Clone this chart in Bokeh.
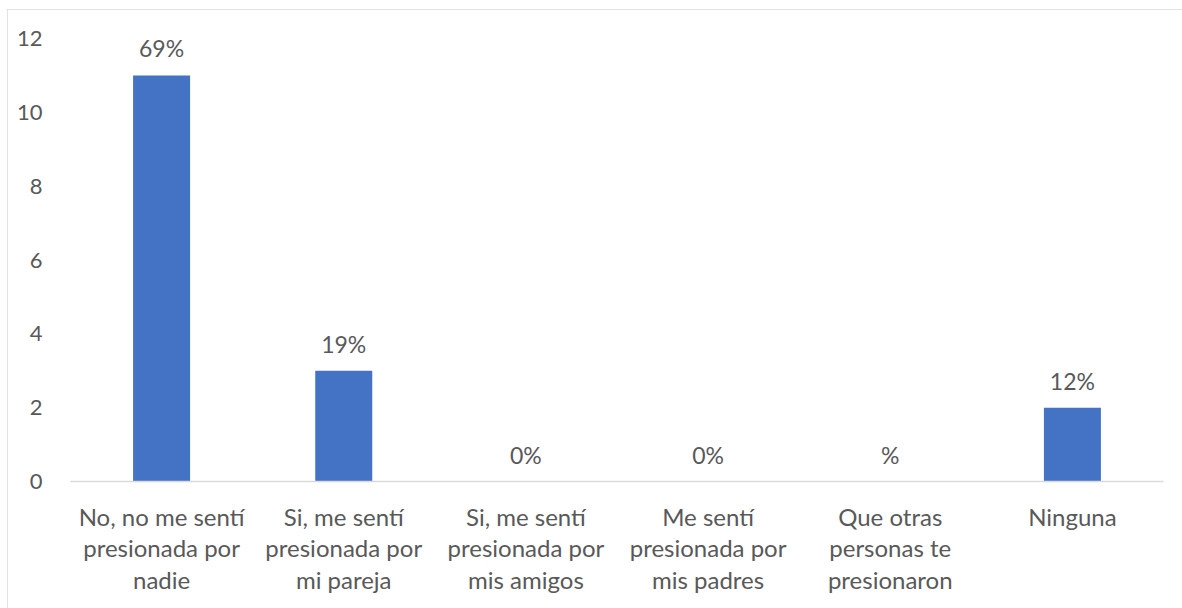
from bokeh.plotting import figure
from bokeh.models import ColumnDataSource, FactorRange, Range1d, SingleIntervalTicker
from bokeh.core.properties import value
from bokeh.embed import file_html
from bokeh.resources import INLINE

categories = [
    "No, no me sentí\npresionada por\nnadie",
    "Si, me sentí\npresionada por\nmi pareja",
    "Si, me sentí\npresionada por\nmis amigos",
    "Me sentí\npresionada por\nmis padres",
    "Que otras\npersonas te\npresionaron",
    "Ninguna",
]
counts = [11, 3, 0, 0, 0, 2]
pct_labels = ["69%", "19%", "0%", "0%", "%", "12%"]

FONT = "Lato"
TXT = "#595959"

src = ColumnDataSource(dict(k=categories, v=counts, lab=pct_labels))

p = figure(
    x_range=FactorRange(*categories, range_padding=0),
    y_range=Range1d(0, 12),
    width=1175, height=599,
    output_backend="svg", toolbar_location=None,
    min_border_left=63, min_border_top=29, min_border_bottom=127, min_border_right=19,
)
p.margin = (9, 0, 0, 7)
p.styles = {"outline": "1px solid #d9d9d9", "outline-offset": "-1px"}
p.outline_line_color = None
p.xgrid.grid_line_color = None
p.ygrid.grid_line_color = None

p.vbar(x="k", top="v", width=0.313, source=src, fill_color="#4472c4", line_color=None)
p.text(x="k", y="v", text="lab", source=src, text_align="center", text_baseline="bottom",
       y_offset=-13, text_font=value(FONT), text_font_size="23px", text_color=TXT)

p.yaxis.ticker = SingleIntervalTicker(interval=2)
p.yaxis.axis_line_color = None
p.yaxis.major_tick_line_color = None
p.yaxis.minor_tick_line_color = None
p.yaxis.major_label_text_font = FONT
p.yaxis.major_label_text_font_size = "22px"
p.yaxis.major_label_text_color = TXT
p.yaxis.major_label_standoff = 22

p.xaxis.axis_line_color = "#d9d9d9"
p.xaxis.axis_line_width = 1.5
p.xaxis.major_tick_line_color = None
p.xaxis.minor_tick_line_color = None
p.xaxis.major_label_text_font = FONT
p.xaxis.major_label_text_font_size = "24px"
p.xaxis.major_label_text_color = TXT
p.xaxis.major_label_text_line_height = 1.1
p.xaxis.major_label_standoff = 14

open("out.html", "w").write(file_html(p, INLINE))
